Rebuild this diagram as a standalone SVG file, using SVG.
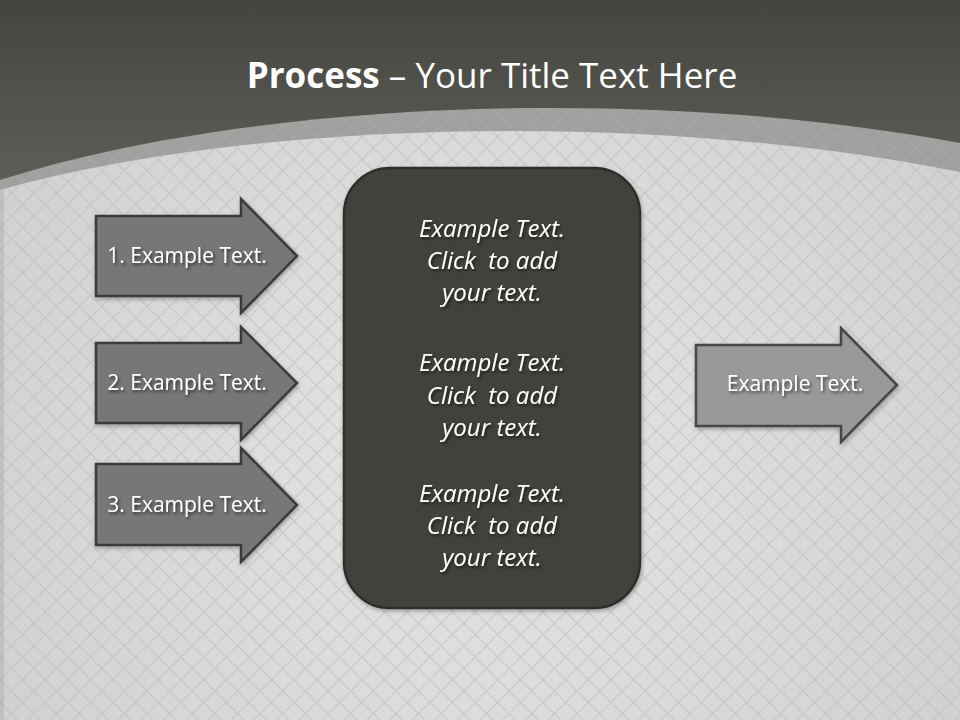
<svg xmlns="http://www.w3.org/2000/svg" width="960" height="720" viewBox="0 0 960 720">
  <defs>
    <linearGradient id="topGrad" x1="0" y1="0" x2="0" y2="190" gradientUnits="userSpaceOnUse">
      <stop offset="0" stop-color="#44453f"/>
      <stop offset="1" stop-color="#5e5f59"/>
    </linearGradient>
    <radialGradient id="lightGrad" cx="480" cy="450" r="600" gradientUnits="userSpaceOnUse">
      <stop offset="0" stop-color="#e6e6e6"/>
      <stop offset="1" stop-color="#cfcfcf"/>
    </radialGradient>
    <pattern id="grid" width="16" height="16" patternUnits="userSpaceOnUse" patternTransform="rotate(45)">
      <path d="M0,0 H16 M0,0 V16" stroke="#b8b8b8" stroke-width="2.4" fill="none"/>
    </pattern>
    <filter id="ts" x="-10%" y="-30%" width="120%" height="160%">
      <feDropShadow dx="1.5" dy="2" stdDeviation="1.5" flood-color="#000" flood-opacity="0.6"/>
    </filter>
    <filter id="ss" x="-10%" y="-10%" width="120%" height="120%">
      <feDropShadow dx="1" dy="2" stdDeviation="2" flood-color="#000" flood-opacity="0.3"/>
    </filter>
  </defs>
  <style>
    .arrowL { fill: #777777; stroke: #3b3b3b; stroke-width: 2.5; stroke-linejoin: miter; }
    .arrowR { fill: #999999; stroke: #464646; stroke-width: 2.5; stroke-linejoin: miter; }
    .lbl { font-family: "Open Sans", "DejaVu Sans", sans-serif; font-size: 21px; fill: #ffffff; text-anchor: middle; }
    .body { font-family: "Open Sans", "DejaVu Sans", sans-serif; font-size: 24px; font-style: italic; fill: #ffffff; text-anchor: middle; }
    .title { font-family: "Open Sans", "DejaVu Sans", sans-serif; font-size: 35px; fill: #ffffff; text-anchor: middle; }
  </style>

  <!-- background -->
  <rect x="0" y="0" width="960" height="720" fill="url(#topGrad)"/>
  <path d="M0,180 C250,100 650,85 960,143 V720 H0 Z" fill="#a0a09e"/>
  <path d="M0,190 C250,120 650,110 960,172 V720 H0 Z" fill="url(#lightGrad)"/>
  <path d="M0,190 C250,120 650,110 960,172 V720 H0 Z" fill="url(#grid)" opacity="0.55"/>
  <path d="M0,180 C250,100 650,85 960,143 L960,172 C650,110 250,120 0,190 Z" fill="url(#grid)" opacity="0.25"/>
  <rect x="0" y="188" width="4" height="532" fill="#a8a8a8" opacity="0.4"/>

  <!-- title -->
  <g id="title">
    <text class="title" x="492" y="88"><tspan font-weight="bold">Process</tspan> – Your Title Text Here</text>
  </g>

  <!-- connectors (none in this picture) -->
  <g id="connectors"></g>

  <g id="arrow1">
    <path class="arrowL" filter="url(#ss)" d="M96,216 H241 V199 L297,256 L241,313 V296 H96 Z"/>
    <text class="lbl" x="187" y="263" filter="url(#ts)">1. Example Text.</text>
  </g>
  <g id="arrow2">
    <path class="arrowL" filter="url(#ss)" d="M96,343 H241 V327 L297,383 L241,440 V423 H96 Z"/>
    <text class="lbl" x="187" y="390" filter="url(#ts)">2. Example Text.</text>
  </g>
  <g id="arrow3">
    <path class="arrowL" filter="url(#ss)" d="M96,464 H241 V448 L297,505 L241,562 V545 H96 Z"/>
    <text class="lbl" x="187" y="512" filter="url(#ts)">3. Example Text.</text>
  </g>

  <g id="center">
    <rect x="344" y="168" width="296" height="440" rx="46" ry="46" fill="#42423e" stroke="#2d2d2a" stroke-width="2.5" filter="url(#ss)"/>
    <g filter="url(#ts)">
      <text class="body" x="492" y="237">Example Text.</text>
      <text class="body" x="492" y="269" xml:space="preserve">Click  to add</text>
      <text class="body" x="492" y="301">your text.</text>
      <text class="body" x="492" y="371">Example Text.</text>
      <text class="body" x="492" y="404" xml:space="preserve">Click  to add</text>
      <text class="body" x="492" y="436">your text.</text>
      <text class="body" x="492" y="502">Example Text.</text>
      <text class="body" x="492" y="534" xml:space="preserve">Click  to add</text>
      <text class="body" x="492" y="566">your text.</text>
    </g>
  </g>

  <g id="arrowOut">
    <path class="arrowR" filter="url(#ss)" d="M696,345 H841 V328 L897,385 L841,442 V426 H696 Z"/>
    <text class="lbl" x="795" y="391" filter="url(#ts)">Example Text.</text>
  </g>
</svg>
